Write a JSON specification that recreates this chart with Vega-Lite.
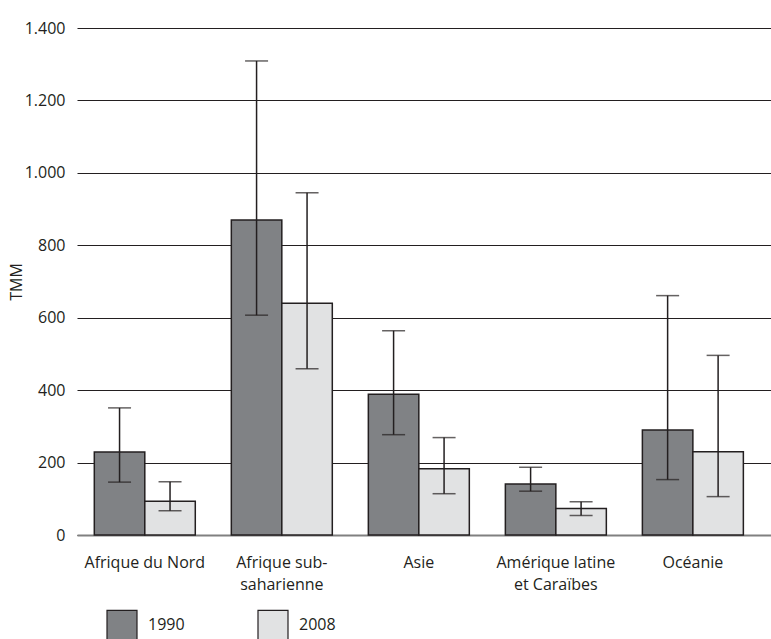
{
  "$schema": "https://vega.github.io/schema/vega-lite/v6.json",
  "width": 694,
  "height": 507,
  "autosize": {"type": "none"},
  "padding": {"left": 77, "top": 28, "right": 0, "bottom": 104},
  "background": "white",
  "data": {
    "values": [
      {"region": "Afrique du Nord", "year": "1990", "value": 229, "low": 146, "high": 351},
      {"region": "Afrique du Nord", "year": "2008", "value": 93, "low": 67, "high": 147},
      {"region": "Afrique sub-|saharienne", "year": "1990", "value": 870, "low": 607, "high": 1309},
      {"region": "Afrique sub-|saharienne", "year": "2008", "value": 640, "low": 459, "high": 945},
      {"region": "Asie", "year": "1990", "value": 389, "low": 277, "high": 564},
      {"region": "Asie", "year": "2008", "value": 183, "low": 114, "high": 269},
      {"region": "Amérique latine|et Caraïbes", "year": "1990", "value": 141, "low": 121, "high": 187},
      {"region": "Amérique latine|et Caraïbes", "year": "2008", "value": 73, "low": 54, "high": 92},
      {"region": "Océanie", "year": "1990", "value": 290, "low": 153, "high": 661},
      {"region": "Océanie", "year": "2008", "value": 230, "low": 106, "high": 496}
    ]
  },
  "encoding": {
    "x": {
      "field": "region",
      "type": "nominal",
      "sort": null,
      "scale": {"paddingInner": 0.263, "paddingOuter": 0.164, "align": 0.385},
      "axis": {
        "title": null,
        "labelAngle": 0,
        "labelExpr": "split(datum.label, '|')",
        "labelFont": "Open Sans",
        "labelFontSize": 16,
        "labelColor": "#231f20",
        "labelLineHeight": 22,
        "labelPadding": 19,
        "ticks": false,
        "domain": true,
        "domainColor": "#808080",
        "domainWidth": 2
      }
    },
    "xOffset": {
      "field": "year",
      "type": "nominal",
      "scale": {"paddingInner": 0, "paddingOuter": 0}
    }
  },
  "layer": [
    {
      "mark": {"type": "bar", "stroke": "#231f20", "strokeWidth": 1.5},
      "encoding": {
        "y": {
          "field": "value",
          "type": "quantitative",
          "scale": {"domain": [0, 1400], "nice": false},
          "axis": {
            "title": "TMM",
            "titleFont": "Open Sans",
            "titleFontSize": 16,
            "titleFontWeight": "normal",
            "titleColor": "#231f20",
            "titlePadding": 0,
            "values": [0, 200, 400, 600, 800, 1000, 1200, 1400],
            "labelExpr": "replace(format(datum.value, ','), ',', '.')",
            "labelFont": "Open Sans",
            "labelFontSize": 16,
            "labelColor": "#231f20",
            "labelPadding": 12,
            "ticks": false,
            "domain": false,
            "grid": true,
            "gridColor": "#231f20",
            "gridWidth": 1.2
          }
        },
        "color": {
          "field": "year",
          "type": "nominal",
          "scale": {"domain": ["1990", "2008"], "range": ["#808285", "#e1e2e3"]},
          "legend": {
            "title": null,
            "orient": "none",
            "legendX": 29,
            "legendY": 581,
            "direction": "horizontal",
            "columnPadding": 70,
            "symbolType": "square",
            "symbolSize": 900,
            "symbolStrokeColor": "#231f20",
            "symbolStrokeWidth": 1.2,
            "symbolOpacity": 1,
            "labelFont": "Open Sans",
            "labelFontSize": 16,
            "labelColor": "#231f20",
            "labelOffset": 10
          }
        }
      }
    },
    {
      "mark": {"type": "rule", "color": "#231f20", "strokeWidth": 1.5},
      "encoding": {
        "y": {"field": "low", "type": "quantitative"},
        "y2": {"field": "high"}
      }
    },
    {
      "mark": {"type": "tick", "color": "#231f20", "thickness": 1.5, "size": 23},
      "encoding": {
        "y": {"field": "low", "type": "quantitative"}
      }
    },
    {
      "mark": {"type": "tick", "color": "#231f20", "thickness": 1.5, "size": 23},
      "encoding": {
        "y": {"field": "high", "type": "quantitative"}
      }
    }
  ],
  "config": {
    "view": {"stroke": null},
    "tick": {"bandSize": 23}
  }
}
